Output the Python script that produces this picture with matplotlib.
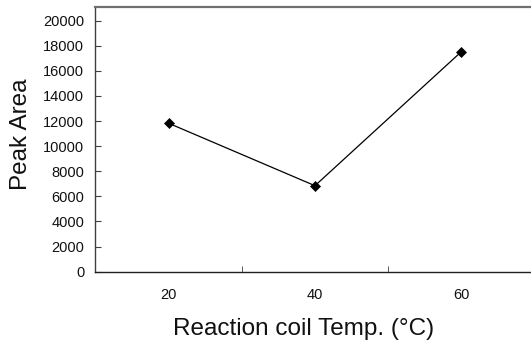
import numpy as np
import matplotlib
matplotlib.use('Agg')
import matplotlib.pyplot as plt

temps = ['20', '40', '60']
peak_area = [11830, 6850, 17530]
yticks = np.arange(0, 20001, 2000)

plt.rcParams['font.family'] = ['Liberation Sans', 'DejaVu Sans']

fig = plt.figure(figsize=(5.31, 3.43), dpi=100)
ax = fig.add_axes([0.1795, 0.2079, 0.8273, 0.7703])

x = np.arange(len(temps))
ax.plot(x, peak_area, color='black', lw=0.9, marker='D', ms=5.5,
        mfc='black', mec='black', mew=0.5)

ax.set_xlim(-0.5, len(temps) - 0.5)
ax.set_ylim(0, 21050)

ax.set_xticks(x)
ax.set_xticklabels(temps)
ax.set_xticks(x[:-1] + 0.5, minor=True)
ax.tick_params(axis='x', which='major', length=0, pad=11.5, labelsize=10.5, labelcolor='#111111')
ax.tick_params(axis='x', which='minor', direction='in', length=4, color='#404040')

ax.set_yticks(yticks)
ax.set_yticklabels([str(v) for v in yticks])
ax.tick_params(axis='y', direction='in', length=4, pad=8, labelsize=10.5, color='#404040',
               labelcolor='#111111')

ax.spines['right'].set_visible(False)
ax.spines['top'].set_color('#707070')
ax.spines['top'].set_linewidth(1.6)
ax.spines['left'].set_color('#404040')
ax.spines['left'].set_linewidth(1.0)
ax.spines['bottom'].set_color('#202020')
ax.spines['bottom'].set_linewidth(1.0)

ax.set_ylabel('Peak Area', fontsize=17.5, color='#111111')
ax.yaxis.set_label_coords(-0.145, 0.52)
ax.set_xlabel('Reaction coil Temp. (°C)', fontsize=17.5, color='#111111')
ax.xaxis.set_label_coords(0.475, -0.175)

fig.savefig('out.png', dpi=100)
